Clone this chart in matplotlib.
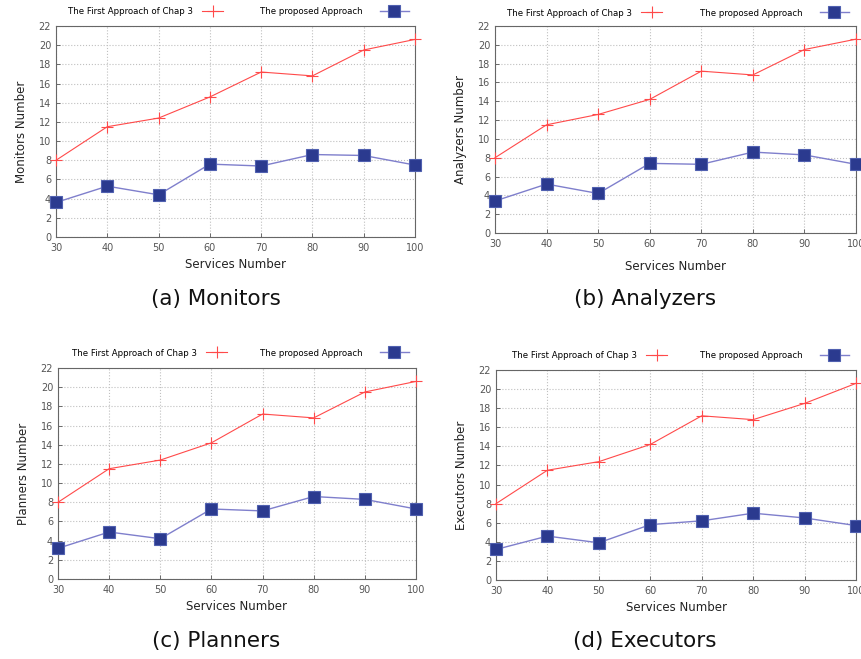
import matplotlib
matplotlib.use("Agg")
import matplotlib.pyplot as plt
from matplotlib.ticker import MultipleLocator

services = [30, 40, 50, 60, 70, 80, 90, 100]

monitors_chap3 = [8.0, 11.5, 12.4, 14.6, 17.2, 16.8, 19.5, 20.6]
monitors_prop = [3.6, 5.3, 4.4, 7.6, 7.4, 8.6, 8.5, 7.5]
analyzers_chap3 = [8.0, 11.5, 12.6, 14.2, 17.2, 16.8, 19.5, 20.6]
analyzers_prop = [3.4, 5.2, 4.2, 7.4, 7.3, 8.6, 8.3, 7.3]
planners_chap3 = [8.0, 11.5, 12.4, 14.2, 17.2, 16.8, 19.5, 20.6]
planners_prop = [3.2, 4.9, 4.2, 7.3, 7.1, 8.6, 8.3, 7.3]
executors_chap3 = [8.0, 11.5, 12.4, 14.2, 17.2, 16.8, 18.5, 20.6]
executors_prop = [3.2, 4.6, 3.9, 5.8, 6.2, 7.0, 6.5, 5.7]

series_labels = ["The First Approach of Chap 3", "The proposed Approach"]
ylabels = ["Monitors Number", "Analyzers Number", "Planners Number", "Executors Number"]
captions = ["(a) Monitors", "(b) Analyzers", "(c) Planners", "(d) Executors"]
xlabel = "Services Number"

W, H = 861, 659
fig = plt.figure(figsize=(W / 100, H / 100), dpi=100)

# axes boxes in pixels: left, top, right, bottom
boxes = [(56, 26, 415, 237), (495, 26, 856, 233), (58, 368, 416, 579), (496, 370, 856, 580)]
data = [(monitors_chap3, monitors_prop), (analyzers_chap3, analyzers_prop),
        (planners_chap3, planners_prop), (executors_chap3, executors_prop)]
cap_pos = [(216, 299), (645, 299), (216, 641), (645, 641)]
# legend placement (pixels): y of legend row, x of first text, x of second text
leg_pos = [(12, 68, 260), (13, 507, 700), (353, 72, 260), (356, 512, 700)]

gray = "#555555"
for i, ((l, t, r, b), (red, blue)) in enumerate(zip(boxes, data)):
    aw, ah = r - l, b - t
    ax = fig.add_axes([l / W, 1 - b / H, aw / W, ah / H])
    h1, = ax.plot(services, red, color="#ff4a4a", lw=0.8, marker="+", ms=8, mew=0.8,
                  clip_on=False, zorder=3)
    h2, = ax.plot(services, blue, color="#7f7fcc", lw=1.0, marker="s", ms=8.5,
                  mfc="#2b3a8f", mec="#5060b0", mew=0.8, clip_on=False, zorder=3)
    ax.set_xlim(30, 100)
    ax.set_ylim(0, 22)
    ax.xaxis.set_major_locator(MultipleLocator(10))
    ax.yaxis.set_major_locator(MultipleLocator(2))
    ax.grid(True, color="#c0c0c0", ls=":", lw=0.8)
    for s in ax.spines.values():
        s.set_color("#666666")
        s.set_linewidth(0.8)
    ax.tick_params(labelsize=7, colors=gray, length=3, width=0.6, direction="in")
    ax.tick_params(axis="x", pad=4)
    ax.set_xlabel(xlabel, fontsize=8.5, color="#222222", labelpad=8 if i == 1 else 4)
    ax.set_ylabel(ylabels[i], fontsize=8.5, color="#222222", labelpad=8)

    ly, lx1, lx2 = leg_pos[i]
    yfrac = (b - ly) / ah
    leg1 = ax.legend([h1], [series_labels[0]], loc="center left",
                     bbox_to_anchor=((lx1 - l) / aw, yfrac), frameon=False,
                     markerfirst=False, fontsize=6.2, handlelength=2.4,
                     handletextpad=1.1, borderpad=0, borderaxespad=0)
    ax.add_artist(leg1)
    ax.legend([h2], [series_labels[1]], loc="center left",
              bbox_to_anchor=((lx2 - l) / aw, yfrac), frameon=False,
              markerfirst=False, fontsize=6.2, handlelength=3.4,
              handletextpad=2.0, borderpad=0, borderaxespad=0)

    cx, cy = cap_pos[i]
    fig.text(cx / W, 1 - cy / H, captions[i], ha="center", va="center", fontsize=15.5,
             color="#111111")

fig.savefig("out.png", dpi=100)
